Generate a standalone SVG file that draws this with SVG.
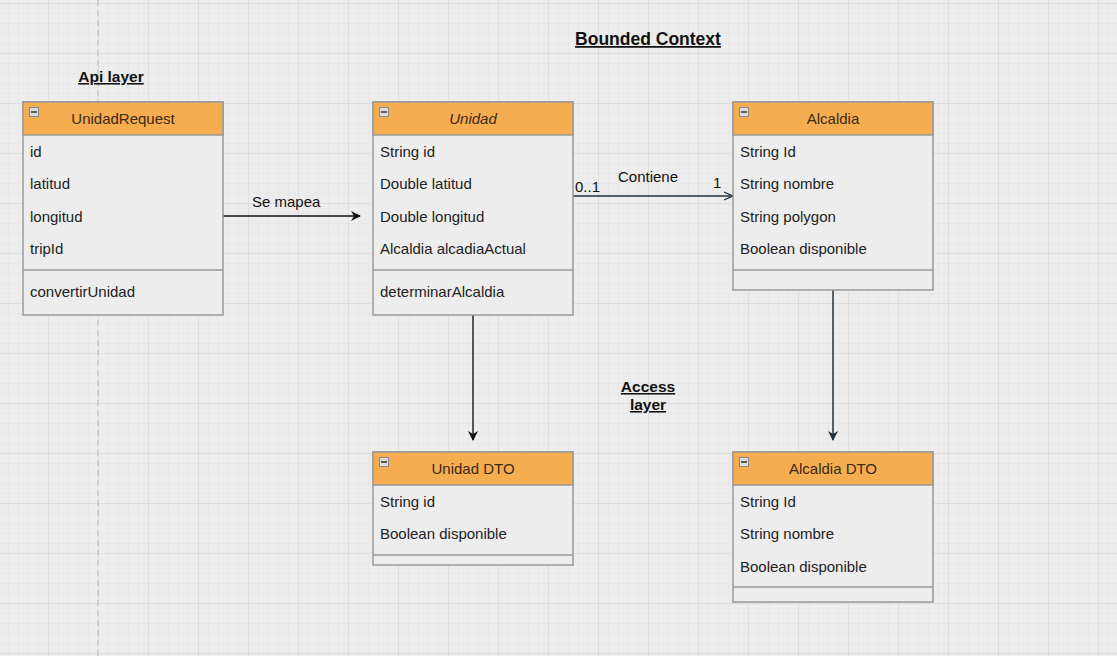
<svg xmlns="http://www.w3.org/2000/svg" width="1117" height="656" viewBox="0 0 1117 656">
<defs>
<pattern id="minor" x="-2" y="3" width="10" height="10" patternUnits="userSpaceOnUse">
<path d="M0 0H10M0 0V10" fill="none" stroke="#e2e2e2" stroke-width="1"/>
</pattern>
<pattern id="major" x="-2" y="3" width="50" height="50" patternUnits="userSpaceOnUse">
<path d="M0 0H50M0 0V50" fill="none" stroke="#d6d6d6" stroke-width="1"/>
</pattern>
<marker id="fill" viewBox="0 0 10 10" refX="9" refY="5" markerWidth="10" markerHeight="10" markerUnits="userSpaceOnUse" orient="auto">
<path d="M0 0L10 5L0 10L3 5Z" fill="#111"/>
</marker>
<marker id="fillb" viewBox="0 0 10 10" refX="9" refY="5" markerWidth="10" markerHeight="10" markerUnits="userSpaceOnUse" orient="auto">
<path d="M0 0L10 5L0 10L3 5Z" fill="#23313f"/>
</marker>
<marker id="open" viewBox="0 0 10 10" refX="9" refY="5" markerWidth="10" markerHeight="10" markerUnits="userSpaceOnUse" orient="auto">
<path d="M0 1L9 5L0 9" fill="none" stroke="#23313f" stroke-width="1.2"/>
</marker>
</defs>
<style>
.box{fill:#ededed;stroke:#999;stroke-width:1.5}
.hd{fill:#f5ad4f;stroke:#999;stroke-width:1.5}
.sep{stroke:#999;stroke-width:1.5}
.t{font-family:"Liberation Sans",Arial,sans-serif;font-size:15px;fill:#222}
.h{font-family:"Liberation Sans",Arial,sans-serif;font-size:15px;fill:#3a2a1a;text-anchor:middle}
.lbl{font-family:"Liberation Sans",Arial,sans-serif;font-size:15.5px;fill:#111;font-weight:bold;text-decoration:underline;text-anchor:middle}
.ic{fill:#dcdcdc;stroke:#888;stroke-width:1}
.edge{fill:none;stroke-width:1.5}
</style>
<rect width="1117" height="656" fill="#ededed"/>
<rect width="1117" height="656" fill="url(#minor)"/>
<rect width="1117" height="656" fill="url(#major)"/>
<line x1="98" y1="0" x2="98" y2="656" stroke="#c8c8c8" stroke-width="1.5" stroke-dasharray="6 4"/>

<text class="lbl" x="648" y="45" style="font-size:17.5px">Bounded Context</text>
<text class="lbl" x="111" y="82">Api layer</text>
<text class="lbl" x="648" y="392">Access</text>
<text class="lbl" x="648" y="410">layer</text>

<g id="connectors">
<line class="edge" x1="223" y1="216" x2="360" y2="216" stroke="#111" marker-end="url(#fill)"/>
<text class="t" x="252" y="207" style="fill:#111">Se mapea</text>
<line class="edge" x1="573" y1="196" x2="733" y2="196" stroke="#23313f" marker-end="url(#open)"/>
<text class="t" x="648" y="182" text-anchor="middle" style="fill:#111">Contiene</text>
<text class="t" x="575" y="192" style="fill:#111">0..1</text>
<text class="t" x="713" y="188" style="fill:#111">1</text>
<line class="edge" x1="473" y1="315" x2="473" y2="440" stroke="#222" marker-end="url(#fill)"/>
<line class="edge" x1="833" y1="290" x2="833" y2="440" stroke="#23313f" marker-end="url(#fillb)"/>
</g>

<g id="UnidadRequest">
<rect class="box" x="23" y="102" width="200" height="213"/>
<rect class="hd" x="23" y="102" width="200" height="33"/>
<rect class="ic" x="29.5" y="107.5" width="9" height="9"/><line x1="31" y1="112" x2="37" y2="112" stroke="#333" stroke-width="1.5"/>
<text class="h" x="123" y="124">UnidadRequest</text>
<text class="t" x="30" y="157">id</text>
<text class="t" x="30" y="189">latitud</text>
<text class="t" x="30" y="222">longitud</text>
<text class="t" x="30" y="254">tripId</text>
<line class="sep" x1="23" y1="270" x2="223" y2="270"/>
<text class="t" x="30" y="297">convertirUnidad</text>
</g>

<g id="Unidad">
<rect class="box" x="373" y="102" width="200" height="213"/>
<rect class="hd" x="373" y="102" width="200" height="33"/>
<rect class="ic" x="379.5" y="107.5" width="9" height="9"/><line x1="381" y1="112" x2="387" y2="112" stroke="#333" stroke-width="1.5"/>
<text class="h" x="473" y="124" font-style="italic">Unidad</text>
<text class="t" x="380" y="157">String id</text>
<text class="t" x="380" y="189">Double latitud</text>
<text class="t" x="380" y="222">Double longitud</text>
<text class="t" x="380" y="254">Alcaldia alcadiaActual</text>
<line class="sep" x1="373" y1="270" x2="573" y2="270"/>
<text class="t" x="380" y="297">determinarAlcaldia</text>
</g>

<g id="Alcaldia">
<rect class="box" x="733" y="102" width="200" height="188"/>
<rect class="hd" x="733" y="102" width="200" height="33"/>
<rect class="ic" x="739.5" y="107.5" width="9" height="9"/><line x1="741" y1="112" x2="747" y2="112" stroke="#333" stroke-width="1.5"/>
<text class="h" x="833" y="124">Alcaldia</text>
<text class="t" x="740" y="157">String Id</text>
<text class="t" x="740" y="189">String nombre</text>
<text class="t" x="740" y="222">String polygon</text>
<text class="t" x="740" y="254">Boolean disponible</text>
<line class="sep" x1="733" y1="270" x2="933" y2="270"/>
</g>

<g id="UnidadDTO">
<rect class="box" x="373" y="452" width="200" height="113"/>
<rect class="hd" x="373" y="452" width="200" height="33"/>
<rect class="ic" x="379.5" y="457.5" width="9" height="9"/><line x1="381" y1="462" x2="387" y2="462" stroke="#333" stroke-width="1.5"/>
<text class="h" x="473" y="474">Unidad DTO</text>
<text class="t" x="380" y="507">String id</text>
<text class="t" x="380" y="539">Boolean disponible</text>
<line class="sep" x1="373" y1="555" x2="573" y2="555"/>
</g>

<g id="AlcaldiaDTO">
<rect class="box" x="733" y="452" width="200" height="150"/>
<rect class="hd" x="733" y="452" width="200" height="33"/>
<rect class="ic" x="739.5" y="457.5" width="9" height="9"/><line x1="741" y1="462" x2="747" y2="462" stroke="#333" stroke-width="1.5"/>
<text class="h" x="833" y="474">Alcaldia DTO</text>
<text class="t" x="740" y="507">String Id</text>
<text class="t" x="740" y="539">String nombre</text>
<text class="t" x="740" y="572">Boolean disponible</text>
<line class="sep" x1="733" y1="587" x2="933" y2="587"/>
</g>
</svg>
